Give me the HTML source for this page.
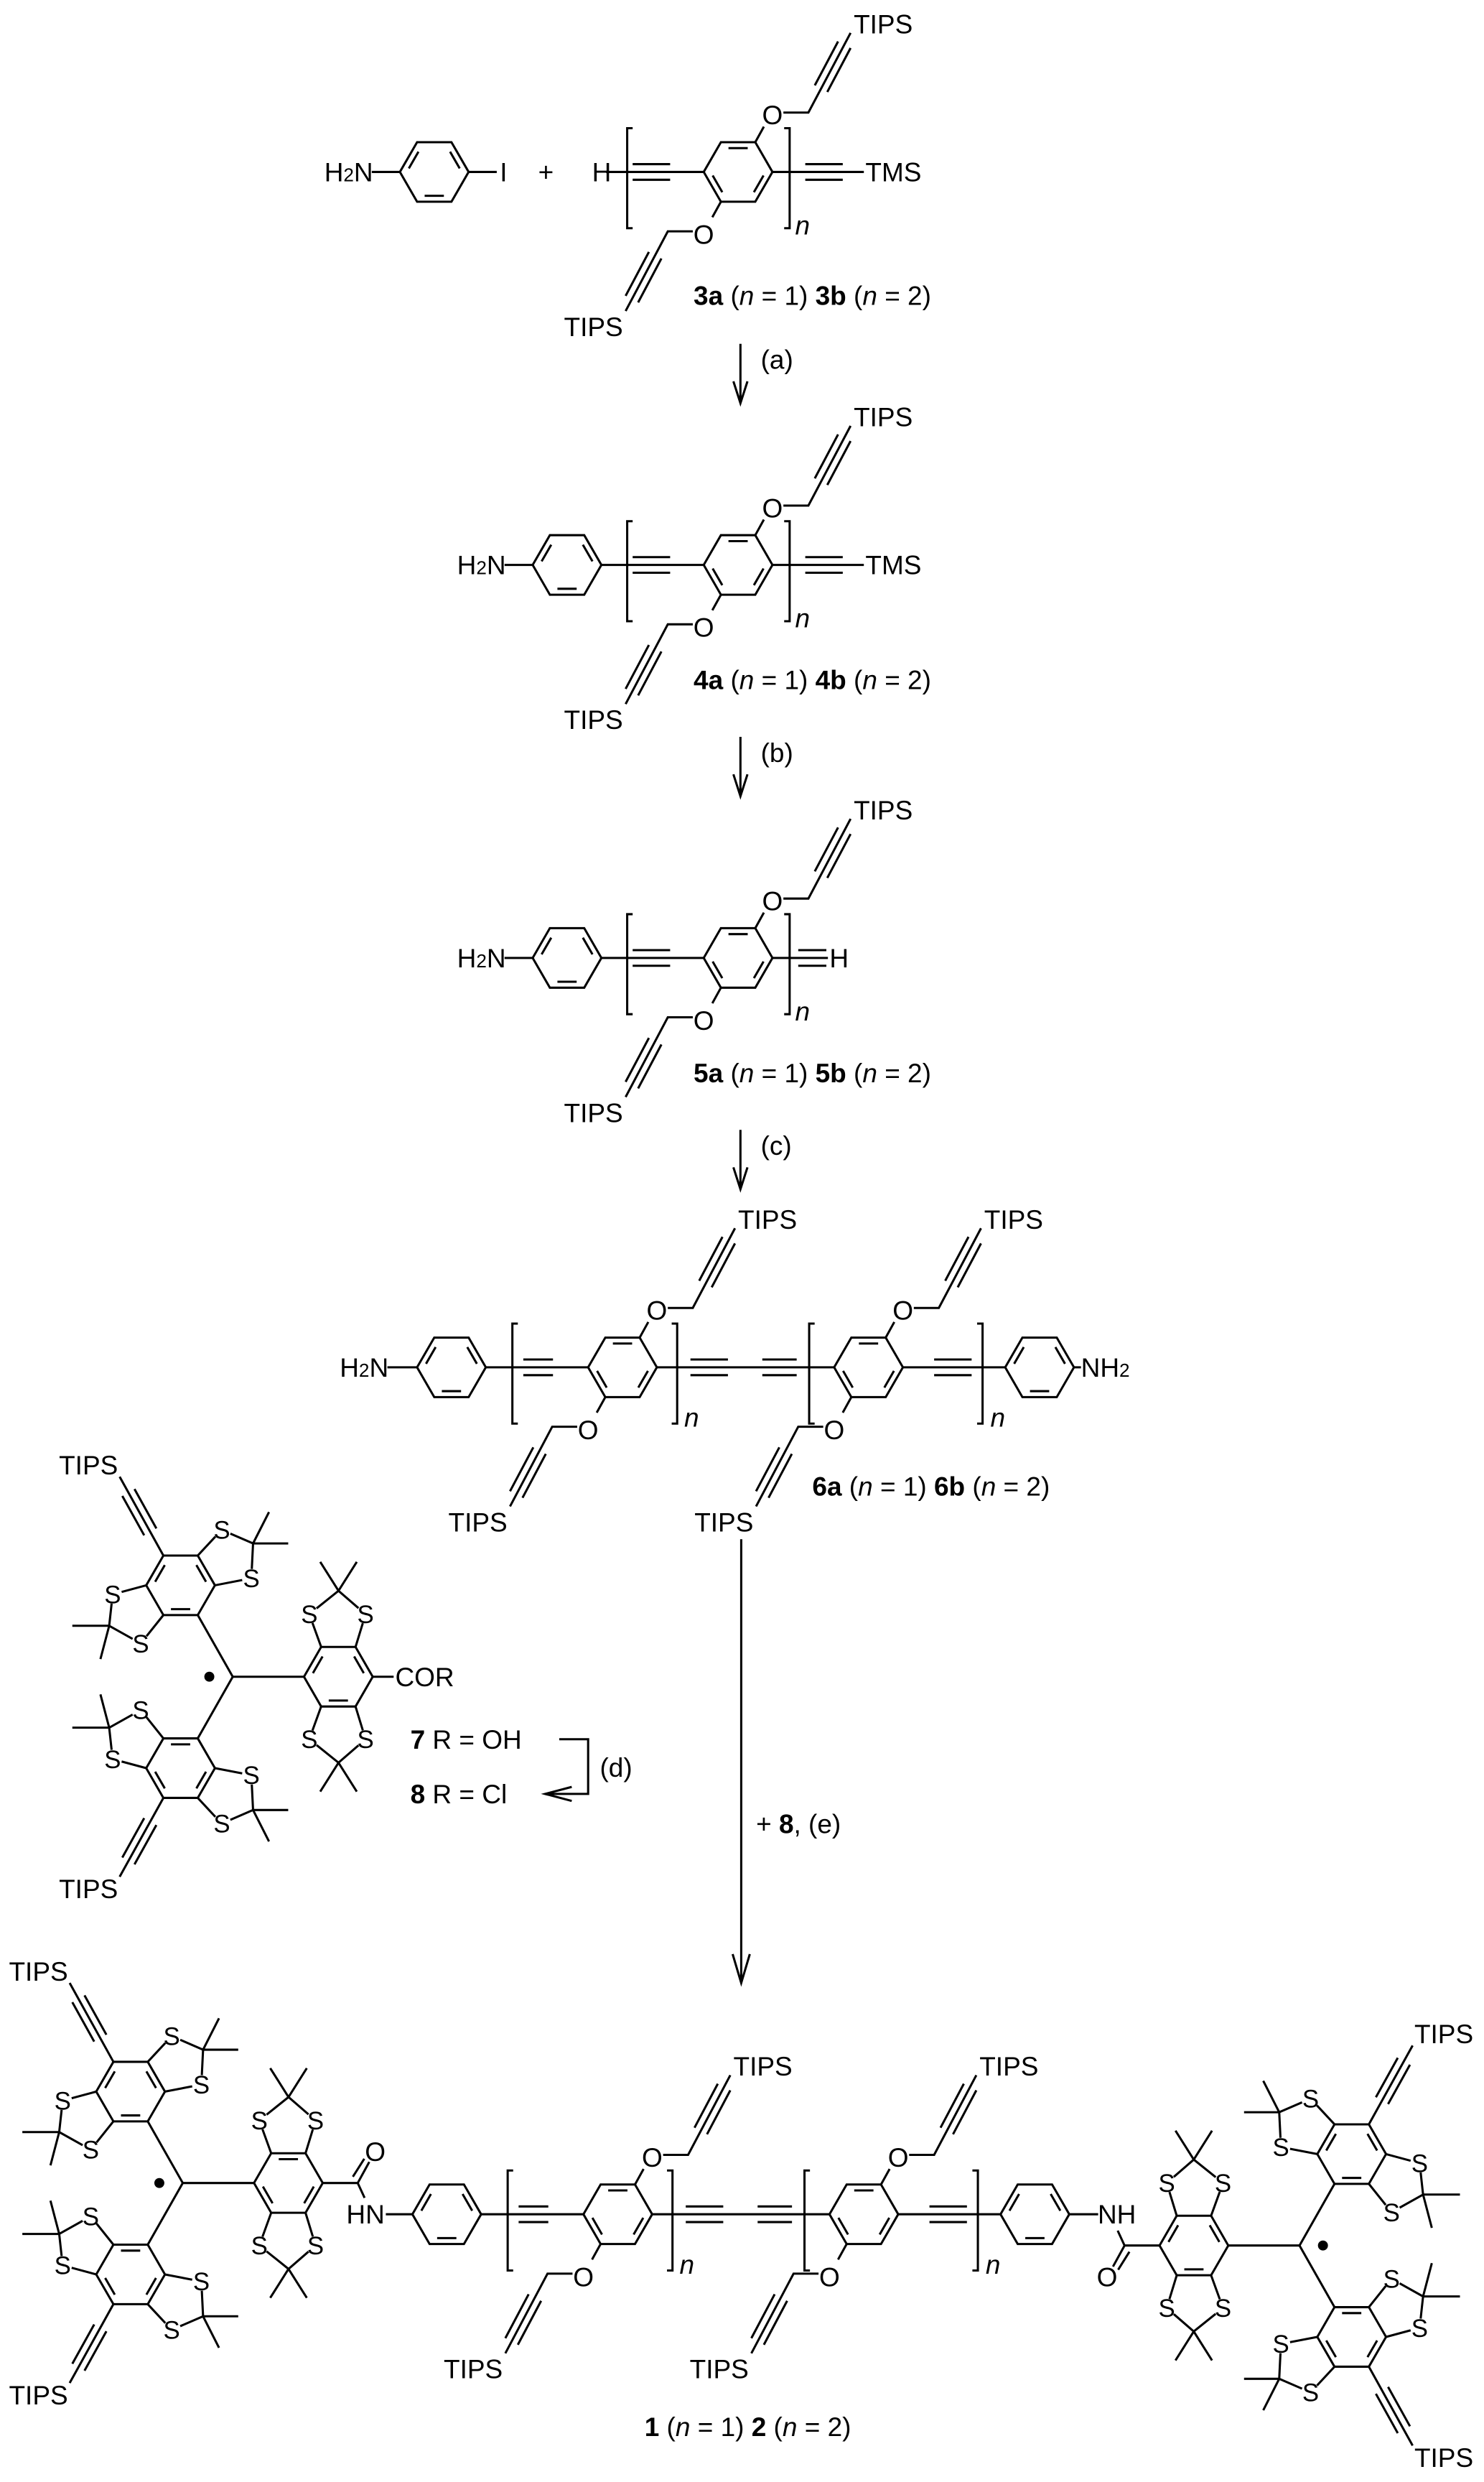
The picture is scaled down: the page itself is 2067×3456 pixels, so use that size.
<!DOCTYPE html>
<html><head><meta charset="utf-8"><style>
html,body{margin:0;padding:0;background:#fff}
svg{display:block}
text{font-family:"Liberation Sans",Arial,sans-serif;fill:#000}
.t{font-size:17px}
.s{font-size:16px;text-anchor:middle}
.m{text-anchor:middle}
.e{text-anchor:end}
</style></head><body>
<svg width="2067" height="3456" viewBox="0 0 950 1588.3" xmlns="http://www.w3.org/2000/svg" xmlns:xlink="http://www.w3.org/1999/xlink">
<defs>
<g id="rA" fill="none" stroke="#000" stroke-width="1.4" stroke-linejoin="miter">
<path d="M22,0 L11,-19.05 L-11,-19.05 L-22,0 L-11,19.05 L11,19.05 Z"/>
<path d="M-10.12,-12.95 L-16.28,-2.29 M16.28,-2.29 L10.12,-12.95 M-6.16,15.24 L6.16,15.24"/>
</g>
<g id="rB" fill="none" stroke="#000" stroke-width="1.4">
<path d="M22,0 L11,-19.05 L-11,-19.05 L-22,0 L-11,19.05 L11,19.05 Z"/>
<path d="M6.16,-15.24 L-6.16,-15.24 M-16.28,2.29 L-10.12,12.95 M10.12,12.95 L16.28,2.29"/>
</g>
<g id="ch" fill="none" stroke="#000" stroke-width="1.4">
<path d="M11,-19.05 L16.5,-29 M29,-38 L45,-38 L72,-89 M57.1,-51.2 L72,-79.3 M49.1,-55.4 L64,-83.5"/>
</g>
<g id="uP"><use href="#rB"/><use href="#ch"/><use href="#ch" transform="rotate(180)"/></g>
<path id="bL" d="M3.5,-28 L0,-28 L0,36 L3.5,36" fill="none" stroke="#000" stroke-width="1.4"/>
<path id="bR" d="M-3.5,-28 L0,-28 L0,36 L-3.5,36" fill="none" stroke="#000" stroke-width="1.4"/>
<g id="triU" fill="none" stroke="#000" stroke-width="1.4">
<use href="#rA" x="33.4" y="-58.5"/>
<path d="M0,0 L22.4,-39.45 M44.4,-77.55 L72.4,-128 M56.7,-90.5 L70.7,-115.7 M48.9,-94.9 L62.9,-120.1"/>
<path d="M22.4,-77.55 L7.1,-94 L-13,-85.3 L-11.9,-63 L11.4,-58.5 M-13,-85.3 L-23.2,-105.4 M-13,-85.3 L-35.5,-85.3"/>
<path d="M55.4,-58.5 L76.9,-52.7 L79.1,-32.6 L58.9,-21.3 L44.4,-39.45 M79.1,-32.6 L102.7,-32.6 M79.1,-32.6 L84.7,-11.3"/>
<path d="M-78.6,-19.05 L-85,-40 L-67.7,-55 L-49,-40 L-56.6,-19.05 M-67.7,-55 L-79.4,-73.5 M-67.7,-55 L-56,-73.5"/>
</g>
<g id="tri">
<use href="#triU"/><use href="#triU" transform="scale(1,-1)"/>
<use href="#rA" x="-67.6" y="0"/>
<path d="M0,0 L-45.6,0" stroke="#000" stroke-width="1.4"/>
<circle cx="15" cy="0" r="3.2" fill="#000"/>
</g>
<g id="body4" fill="none" stroke="#000" stroke-width="1.4">
<use href="#rA" x="289" y="875"/>
<use href="#uP" x="398.5" y="875"/>
<use href="#uP" x="556" y="875"/>
<use href="#rA" x="665.5" y="875"/>
<path d="M311,875 L376.5,875 M420.5,875 L534,875 M578,875 L643.5,875"/>
<path d="M335,870 L354,870 M335,880 L354,880 M442,870 L466,870 M442,880 L466,880 M488,870 L510,870 M488,880 L510,880 M598,870 L622,870 M598,880 L622,880"/>
<use href="#bL" x="328" y="875"/><use href="#bR" x="433.5" y="875"/>
<use href="#bL" x="518" y="875"/><use href="#bR" x="629" y="875"/>
</g>
</defs>

<g fill="none" stroke="#000" stroke-width="1.4">
<!-- stage 1 -->
<path d="M238,110 L256,110 M300,110 L318,110 M388,110 L450.5,110 M405,105 L429,105 M405,115 L429,115 M494.5,110 L553,110 M515.5,105 L539.5,105 M515.5,115 L539.5,115"/>
<use href="#rA" x="278" y="110"/>
<use href="#uP" x="472.5" y="110"/>
<use href="#bL" x="401.5" y="110"/><use href="#bR" x="505.5" y="110"/>
<!-- stage 2 -->
<path d="M323,361.5 L341,361.5 M385,361.5 L450.5,361.5 M405,356.5 L429,356.5 M405,366.5 L429,366.5 M494.5,361.5 L553,361.5 M515.5,356.5 L539.5,356.5 M515.5,366.5 L539.5,366.5"/>
<use href="#rA" x="363" y="361.5"/>
<use href="#uP" x="472.5" y="361.5"/>
<use href="#bL" x="401.5" y="361.5"/><use href="#bR" x="505.5" y="361.5"/>
<!-- stage 3 -->
<path d="M323,613 L341,613 M385,613 L450.5,613 M405,608 L429,608 M405,618 L429,618 M494.5,613 L530,613 M511,608 L529,608 M511,618 L529,618"/>
<use href="#rA" x="363" y="613"/>
<use href="#uP" x="472.5" y="613"/>
<use href="#bL" x="401.5" y="613"/><use href="#bR" x="505.5" y="613"/>
<!-- stage 4 -->
<use href="#body4"/>
<path d="M248,875 L267,875 M687.5,875 L692,875"/>
<!-- product -->
<use href="#body4" transform="translate(-3,542)"/>
<path d="M247,1417 L264,1417 M684.5,1417 L703,1417"/>
<path d="M742.3,1437 L719.9,1437 L715.5,1427.5 M719.9,1437 L712.5,1450.5 M723,1441 L715.8,1452.5"/>
<path d="M206.6,1397 L229,1397 L233.4,1406.5 M229,1397 L236.4,1383.5 M225.9,1393 L233.2,1381.5"/>
<!-- arrows -->
<path d="M474,220 L474,258 M469.5,244 L474,258 L478.5,244"/>
<path d="M474,471.5 L474,509.5 M469.5,495.5 L474,509.5 L478.5,495.5"/>
<path d="M474,723 L474,761 M469.5,747 L474,761 L478.5,747"/>
<path d="M474.5,985 L474.5,1269 M469,1250.5 L474.5,1269 L480,1250.5"/>
<path d="M358,1113 L376.5,1113 L376.5,1148 L349,1148 M366,1143.5 L349,1148 L366,1152.5"/>
<!-- 7 COR bond -->
<path d="M238.6,1073 L252,1073"/>
</g>

<use href="#tri" transform="translate(831.9,1437)"/>
<use href="#tri" transform="translate(117,1397) rotate(180)"/>
<use href="#tri" transform="translate(149,1073) scale(-1,1)"/>

<!-- label masks -->
<g fill="#fff">
<circle cx="494.5" cy="73.5" r="6.5"/><circle cx="450.5" cy="150" r="6.5"/>
<circle cx="494.5" cy="325" r="6.5"/><circle cx="450.5" cy="401.5" r="6.5"/>
<circle cx="494.5" cy="576.5" r="6.5"/><circle cx="450.5" cy="653" r="6.5"/>
<circle cx="420.5" cy="838.5" r="6.5"/><circle cx="376.5" cy="915" r="6.5"/><circle cx="578" cy="838.5" r="6.5"/><circle cx="534" cy="915" r="6.5"/>
<circle cx="417.5" cy="1380.5" r="6.5"/><circle cx="373.5" cy="1457" r="6.5"/><circle cx="575" cy="1380.5" r="6.5"/><circle cx="531" cy="1457" r="6.5"/>
<circle cx="708.7" cy="1457" r="6.5"/><circle cx="240.2" cy="1377" r="6.5"/>
<!-- S right trityl -->
<circle cx="839" cy="1343" r="6"/><circle cx="820" cy="1374" r="6"/><circle cx="908.8" cy="1384.3" r="6"/><circle cx="890.8" cy="1415.7" r="6"/><circle cx="746.9" cy="1397" r="6"/><circle cx="782.9" cy="1397" r="6"/>
<circle cx="839" cy="1531" r="6"/><circle cx="820" cy="1500" r="6"/><circle cx="908.8" cy="1489.7" r="6"/><circle cx="890.8" cy="1458.3" r="6"/><circle cx="746.9" cy="1477" r="6"/><circle cx="782.9" cy="1477" r="6"/>
<!-- S left trityl -->
<circle cx="109.9" cy="1491" r="6"/><circle cx="128.9" cy="1460" r="6"/><circle cx="40.1" cy="1449.7" r="6"/><circle cx="58.1" cy="1418.3" r="6"/><circle cx="202" cy="1437" r="6"/><circle cx="166" cy="1437" r="6"/>
<circle cx="109.9" cy="1303" r="6"/><circle cx="128.9" cy="1334" r="6"/><circle cx="40.1" cy="1344.3" r="6"/><circle cx="58.1" cy="1375.7" r="6"/><circle cx="202" cy="1357" r="6"/><circle cx="166" cy="1357" r="6"/>
<!-- S trityl 7 -->
<circle cx="142" cy="979" r="6"/><circle cx="160.9" cy="1010" r="6"/><circle cx="72.1" cy="1020.3" r="6"/><circle cx="90.1" cy="1051.7" r="6"/><circle cx="234" cy="1033" r="6"/><circle cx="198" cy="1033" r="6"/>
<circle cx="142" cy="1167" r="6"/><circle cx="160.9" cy="1136" r="6"/><circle cx="72.1" cy="1125.7" r="6"/><circle cx="90.1" cy="1094.3" r="6"/><circle cx="234" cy="1113" r="6"/><circle cx="198" cy="1113" r="6"/>
</g>

<g class="t">
<!-- stage 1 -->
<text class="t" x="207.6" y="116">H<tspan font-size="12">2</tspan>N</text>
<text class="t" x="320" y="116">I</text>
<text class="t m" x="349.5" y="116">+</text>
<text class="t" x="379" y="116">H</text>
<text class="t" x="554" y="116">TMS</text>
<text class="t m" x="494.5" y="79.5">O</text>
<text class="t m" x="450.5" y="156">O</text>
<text class="t" x="546.5" y="21.3">TIPS</text>
<text class="t e" x="398.8" y="215">TIPS</text>
<text class="t" x="509" y="150" font-style="italic">n</text>
<text class="t" x="444" y="195"><tspan font-weight="bold">3a</tspan> (<tspan font-style="italic">n</tspan> = 1)  <tspan font-weight="bold">3b</tspan> (<tspan font-style="italic">n</tspan> = 2)</text>
<text class="t" x="487" y="236">(a)</text>
<!-- stage 2 -->
<text class="t" x="292.6" y="367.5">H<tspan font-size="12">2</tspan>N</text>
<text class="t" x="554" y="367.5">TMS</text>
<text class="t m" x="494.5" y="331">O</text>
<text class="t m" x="450.5" y="407.5">O</text>
<text class="t" x="546.5" y="272.8">TIPS</text>
<text class="t e" x="398.8" y="466.5">TIPS</text>
<text class="t" x="509" y="401.5" font-style="italic">n</text>
<text class="t" x="444" y="441"><tspan font-weight="bold">4a</tspan> (<tspan font-style="italic">n</tspan> = 1)  <tspan font-weight="bold">4b</tspan> (<tspan font-style="italic">n</tspan> = 2)</text>
<text class="t" x="487" y="487.5">(b)</text>
<!-- stage 3 -->
<text class="t" x="292.6" y="619">H<tspan font-size="12">2</tspan>N</text>
<text class="t" x="531" y="619">H</text>
<text class="t m" x="494.5" y="582.5">O</text>
<text class="t m" x="450.5" y="659">O</text>
<text class="t" x="546.5" y="524.3">TIPS</text>
<text class="t e" x="398.8" y="718">TIPS</text>
<text class="t" x="509" y="653" font-style="italic">n</text>
<text class="t" x="444" y="692.5"><tspan font-weight="bold">5a</tspan> (<tspan font-style="italic">n</tspan> = 1)  <tspan font-weight="bold">5b</tspan> (<tspan font-style="italic">n</tspan> = 2)</text>
<text class="t" x="487" y="739">(c)</text>
<!-- stage 4 -->
<text class="t" x="217.5" y="881">H<tspan font-size="12">2</tspan>N</text>
<text class="t" x="692" y="881">NH<tspan font-size="12">2</tspan></text>
<text class="t m" x="420.5" y="844.5">O</text>
<text class="t m" x="376.5" y="921">O</text>
<text class="t m" x="578" y="844.5">O</text>
<text class="t m" x="534" y="921">O</text>
<text class="t" x="472.5" y="786.3">TIPS</text>
<text class="t" x="630" y="786.3">TIPS</text>
<text class="t e" x="324.8" y="980">TIPS</text>
<text class="t e" x="482.3" y="980">TIPS</text>
<text class="t" x="438" y="913" font-style="italic">n</text>
<text class="t" x="634" y="913" font-style="italic">n</text>
<text class="t" x="520" y="957"><tspan font-weight="bold">6a</tspan> (<tspan font-style="italic">n</tspan> = 1)  <tspan font-weight="bold">6b</tspan> (<tspan font-style="italic">n</tspan> = 2)</text>
<!-- trityl 7 -->
<text class="t e" x="75.5" y="943.6">TIPS</text>
<text class="t e" x="75.5" y="1214.6">TIPS</text>
<text class="t" x="253" y="1079">COR</text>
<text class="t" x="262.7" y="1119"><tspan font-weight="bold">7</tspan>  R = OH</text>
<text class="t" x="262.7" y="1154"><tspan font-weight="bold">8</tspan>  R = Cl</text>
<text class="t" x="384" y="1137">(d)</text>
<text class="t" x="484" y="1173">+ <tspan font-weight="bold">8</tspan>, (e)</text>
<!-- product -->
<text class="t m" x="234" y="1423">HN</text>
<text class="t m" x="715" y="1423">NH</text>
<text class="t m" x="240.2" y="1383">O</text>
<text class="t m" x="708.7" y="1463">O</text>
<text class="t m" x="417.5" y="1386.5">O</text>
<text class="t m" x="373.5" y="1463">O</text>
<text class="t m" x="575" y="1386.5">O</text>
<text class="t m" x="531" y="1463">O</text>
<text class="t" x="469.5" y="1328.3">TIPS</text>
<text class="t" x="627" y="1328.3">TIPS</text>
<text class="t e" x="321.8" y="1522">TIPS</text>
<text class="t e" x="479.3" y="1522">TIPS</text>
<text class="t" x="435" y="1455" font-style="italic">n</text>
<text class="t" x="631" y="1455" font-style="italic">n</text>
<text class="t" x="905.4" y="1307.6">TIPS</text>
<text class="t" x="905.4" y="1578.6">TIPS</text>
<text class="t e" x="43.5" y="1267.6">TIPS</text>
<text class="t e" x="43.5" y="1538.6">TIPS</text>
<text class="t" x="412.6" y="1559"><tspan font-weight="bold">1</tspan> (<tspan font-style="italic">n</tspan> = 1)  <tspan font-weight="bold">2</tspan> (<tspan font-style="italic">n</tspan> = 2)</text>
</g>

<g class="s">
<text class="s" x="839" y="1348.7">S</text><text class="s" x="820" y="1379.7">S</text><text class="s" x="908.8" y="1390">S</text><text class="s" x="890.8" y="1421.4">S</text><text class="s" x="746.9" y="1402.7">S</text><text class="s" x="782.9" y="1402.7">S</text>
<text class="s" x="839" y="1536.7">S</text><text class="s" x="820" y="1505.7">S</text><text class="s" x="908.8" y="1495.4">S</text><text class="s" x="890.8" y="1464">S</text><text class="s" x="746.9" y="1482.7">S</text><text class="s" x="782.9" y="1482.7">S</text>
<text class="s" x="109.9" y="1496.7">S</text><text class="s" x="128.9" y="1465.7">S</text><text class="s" x="40.1" y="1455.4">S</text><text class="s" x="58.1" y="1424">S</text><text class="s" x="202" y="1442.7">S</text><text class="s" x="166" y="1442.7">S</text>
<text class="s" x="109.9" y="1308.7">S</text><text class="s" x="128.9" y="1339.7">S</text><text class="s" x="40.1" y="1350">S</text><text class="s" x="58.1" y="1381.4">S</text><text class="s" x="202" y="1362.7">S</text><text class="s" x="166" y="1362.7">S</text>
<text class="s" x="142" y="984.7">S</text><text class="s" x="160.9" y="1015.7">S</text><text class="s" x="72.1" y="1026">S</text><text class="s" x="90.1" y="1057.4">S</text><text class="s" x="234" y="1038.7">S</text><text class="s" x="198" y="1038.7">S</text>
<text class="s" x="142" y="1172.7">S</text><text class="s" x="160.9" y="1141.7">S</text><text class="s" x="72.1" y="1131.4">S</text><text class="s" x="90.1" y="1100">S</text><text class="s" x="234" y="1118.7">S</text><text class="s" x="198" y="1118.7">S</text>
</g>
</svg>
</body></html>
